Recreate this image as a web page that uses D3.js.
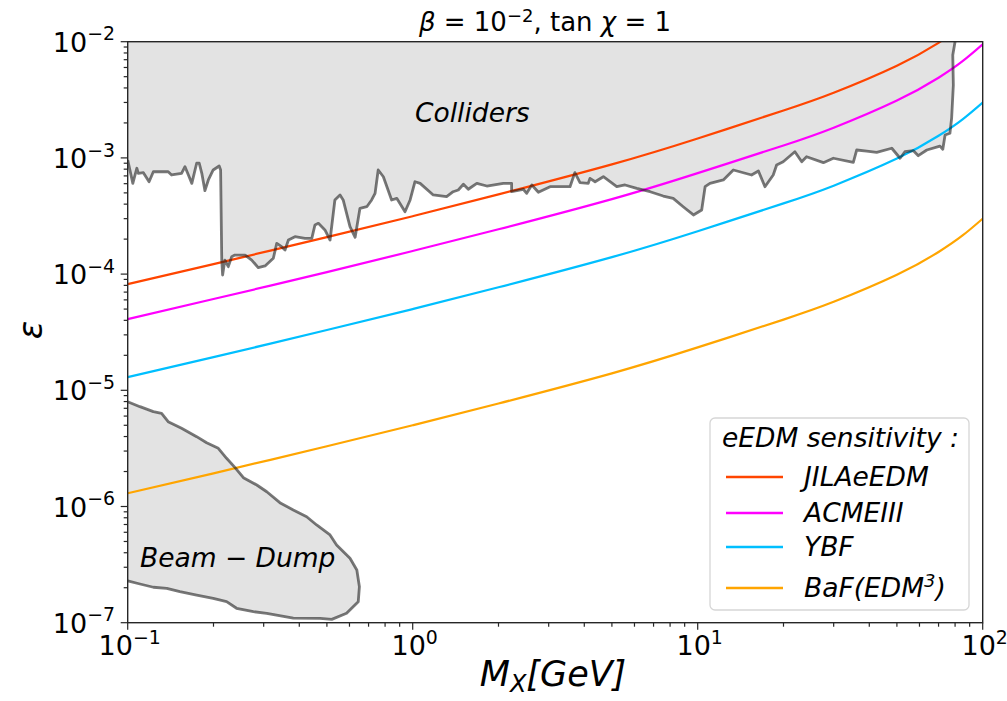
<!DOCTYPE html>
<html>
<head>
<meta charset="utf-8">
<script src="https://cdn.jsdelivr.net/npm/d3@7"></script>
<style>
body { margin:0; background:#fff; }
text { font-family: "DejaVu Sans", sans-serif; fill:#000; }
</style>
</head>
<body>
<svg id="chart" width="1007" height="701"></svg>
<script>
var massGrid = [0.1, 0.2, 0.5, 1, 2, 5, 10, 20, 30, 50, 70, 85, 100];
var jilaEps = [8.2e-5, 1.22e-4, 2.08e-4, 3.15e-4, 4.85e-4, 8.8e-4, 1.47e-3, 2.56e-3, 3.64e-3, 6.22e-3, 9.78e-3, 1.36e-2, 1.89e-2];
var acmeEps = [4.1e-5, 6.1e-5, 1.04e-4, 1.58e-4, 2.43e-4, 4.42e-4, 7.4e-4, 1.28e-3, 1.82e-3, 3.12e-3, 4.9e-3, 6.8e-3, 9.5e-3];
var ybfEps = [1.3e-5, 1.93e-5, 3.3e-5, 5.0e-5, 7.7e-5, 1.4e-4, 2.34e-4, 4.06e-4, 5.77e-4, 9.86e-4, 1.55e-3, 2.15e-3, 3.0e-3];
var bafEps = [1.3e-6, 1.93e-6, 3.3e-6, 5.0e-6, 7.7e-6, 1.4e-5, 2.34e-5, 4.06e-5, 5.77e-5, 9.86e-5, 1.55e-4, 2.15e-4, 3.0e-4];

var seriesNames = ["JILAeEDM", "ACMEIII", "YBF", "BaF"];
var seriesColors = ["#ff4500", "#ff00ff", "#00bfff", "#ffa500"];

// collider bound, log10(M/GeV) and log10(eps)
var colliderLogM = [-1.000,-0.982,-0.968,-0.963,-0.945,-0.925,-0.910,-0.858,-0.846,-0.811,-0.799,-0.787,-0.775,-0.758,-0.749,-0.740,-0.729,-0.717,-0.700,-0.679,-0.674,-0.670,-0.667,-0.659,-0.647,-0.635,-0.624,-0.588,-0.565,-0.542,-0.518,-0.489,-0.477,-0.460,-0.448,-0.436,-0.413,-0.378,-0.354,-0.343,-0.331,-0.308,-0.290,-0.273,-0.255,-0.244,-0.220,-0.202,-0.185,-0.161,-0.144,-0.132,-0.121,-0.103,-0.074,-0.056,-0.027,-0.009,0.008,0.026,0.072,0.119,0.142,0.160,0.178,0.195,0.225,0.260,0.318,0.347,0.347,0.388,0.400,0.418,0.441,0.482,0.552,0.569,0.587,0.616,0.622,0.640,0.669,0.716,0.745,0.786,0.833,0.879,0.914,0.949,0.985,1.014,1.026,1.043,1.090,1.125,1.189,1.213,1.236,1.265,1.277,1.300,1.341,1.365,1.382,1.441,1.476,1.546,1.558,1.593,1.628,1.681,1.710,1.727,1.757,1.774,1.804,1.850,1.860,1.868,1.885,1.891,1.897,1.895,1.903];
var colliderLogEps = [-3.018,-3.219,-3.089,-3.133,-3.127,-3.205,-3.119,-3.119,-3.147,-3.133,-3.076,-3.147,-3.219,-3.046,-3.046,-3.133,-3.282,-3.190,-3.104,-3.070,-3.104,-3.879,-4.008,-3.879,-3.936,-3.850,-3.836,-3.836,-3.879,-3.945,-3.930,-3.864,-3.735,-3.764,-3.793,-3.707,-3.678,-3.692,-3.692,-3.577,-3.563,-3.620,-3.707,-3.362,-3.319,-3.362,-3.592,-3.683,-3.434,-3.420,-3.362,-3.305,-3.104,-3.162,-3.362,-3.348,-3.463,-3.362,-3.205,-3.219,-3.319,-3.334,-3.291,-3.276,-3.227,-3.270,-3.219,-3.242,-3.219,-3.219,-3.291,-3.270,-3.305,-3.233,-3.296,-3.248,-3.248,-3.127,-3.213,-3.219,-3.176,-3.205,-3.162,-3.248,-3.233,-3.262,-3.291,-3.328,-3.348,-3.420,-3.491,-3.448,-3.248,-3.219,-3.190,-3.104,-3.147,-3.113,-3.248,-3.147,-3.061,-3.033,-2.947,-3.033,-2.990,-3.041,-3.003,-3.038,-2.932,-2.941,-2.952,-2.917,-3.003,-2.947,-2.938,-2.981,-2.932,-2.898,-2.926,-2.803,-2.788,-2.659,-2.373,-2.114,-2.000];

// beam dump region, same units
var beamLogM = [-1.000,-0.957,-0.910,-0.881,-0.858,-0.811,-0.758,-0.723,-0.682,-0.653,-0.624,-0.594,-0.547,-0.512,-0.466,-0.419,-0.372,-0.337,-0.290,-0.267,-0.220,-0.196,-0.187,-0.191,-0.232,-0.284,-0.325,-0.419,-0.512,-0.559,-0.618,-0.653,-0.700,-0.758,-0.817,-0.863,-0.910,-0.957,-1.000];
var beamLogEps = [-5.098,-5.141,-5.184,-5.198,-5.270,-5.327,-5.399,-5.451,-5.499,-5.585,-5.663,-5.752,-5.815,-5.873,-5.967,-6.030,-6.088,-6.159,-6.245,-6.331,-6.446,-6.547,-6.690,-6.819,-6.919,-6.971,-6.962,-6.960,-6.919,-6.905,-6.876,-6.819,-6.790,-6.762,-6.733,-6.704,-6.695,-6.667,-6.641];

var xTicks = [0.1, 1, 10, 100];
var xTickExp = ["\u22121", "0", "1", "2"];
var yTicks = [1e-7, 1e-6, 1e-5, 1e-4, 1e-3, 1e-2];
var yTickExp = ["\u22127", "\u22126", "\u22125", "\u22124", "\u22123", "\u22122"];

// plot box in px (note: "top" is taken by window.top)
var pLeft = 127.7, pRight = 982.7, pTop = 41.7, pBottom = 622.7;
var svg = d3.select("#chart");

var x = d3.scaleLog().domain([0.1, 100]).range([pLeft, pRight]);
var y = d3.scaleLog().domain([1e-7, 1e-2]).range([pBottom, pTop]);

svg.append("defs").append("clipPath").attr("id", "plotclip")
  .append("rect").attr("x", pLeft).attr("y", pTop)
  .attr("width", pRight - pLeft).attr("height", pBottom - pTop);

var plot = svg.append("g").attr("clip-path", "url(#plotclip)");

function pts(lm, le) {
  return lm.map(function(m, i) { return [Math.pow(10, m), Math.pow(10, le[i])]; });
}
var line = d3.line().x(function(d) { return x(d[0]); }).y(function(d) { return y(d[1]); });

var collider = pts(colliderLogM, colliderLogEps);
var beam = pts(beamLogM, beamLogEps);

// shaded regions
plot.append("path")
  .attr("d", line(collider.concat([[0.1, 1e-2]])) + "Z")
  .attr("fill", "#e3e3e3");
plot.append("path")
  .attr("d", line(beam) + "Z")
  .attr("fill", "#e3e3e3");

// sensitivity curves
var allEps = [jilaEps, acmeEps, ybfEps, bafEps];
var curve = d3.line().curve(d3.curveNatural)
  .x(function(d) { return x(d[0]); }).y(function(d) { return y(d[1]); });
allEps.forEach(function(vals, k) {
  plot.append("path")
    .attr("d", curve(massGrid.map(function(m, i) { return [m, vals[i]]; })))
    .attr("fill", "none")
    .attr("stroke", seriesColors[k])
    .attr("stroke-width", 2.2);
});

// region outlines
[collider, beam].forEach(function(p) {
  plot.append("path")
    .attr("d", line(p))
    .attr("fill", "none")
    .attr("stroke", "#1e1e1e")
    .attr("stroke-opacity", 0.6)
    .attr("stroke-width", 2.8)
    .attr("stroke-linejoin", "round");
});

// region labels
svg.append("text").attr("x", 415).attr("y", 122)
  .style("font-size", "26.5px").style("font-style", "italic").text("Colliders");
svg.append("text").attr("x", 140).attr("y", 567)
  .style("font-size", "26.5px").style("font-style", "italic").text("Beam \u2212 Dump");

// axes frame
svg.append("rect").attr("x", pLeft).attr("y", pTop)
  .attr("width", pRight - pLeft).attr("height", pBottom - pTop)
  .attr("fill", "none").attr("stroke", "#262626").attr("stroke-width", 1.4);

// ticks
var ax = svg.append("g").attr("stroke", "#262626").attr("stroke-width", 1.2);
for (var d = -1; d < 2; d++) {
  for (var j = 1; j < 10; j++) {
    var v = j * Math.pow(10, d);
    var len = j === 1 ? 7 : 4;
    ax.append("line").attr("x1", x(v)).attr("x2", x(v)).attr("y1", pBottom).attr("y2", pBottom + len);
  }
}
ax.append("line").attr("x1", x(100)).attr("x2", x(100)).attr("y1", pBottom).attr("y2", pBottom + 7);
for (var d = -7; d < -2; d++) {
  for (var j = 1; j < 10; j++) {
    var v = j * Math.pow(10, d);
    var len = j === 1 ? 7 : 4;
    ax.append("line").attr("y1", y(v)).attr("y2", y(v)).attr("x1", pLeft).attr("x2", pLeft - len);
  }
}
ax.append("line").attr("y1", y(1e-2)).attr("y2", y(1e-2)).attr("x1", pLeft).attr("x2", pLeft - 7);

function powLabel(g, px, py, anchor, exp, size) {
  var t = g.append("text").attr("x", px).attr("y", py)
    .attr("text-anchor", anchor).style("font-size", size + "px");
  t.append("tspan").text("10");
  t.append("tspan").attr("dy", -size * 0.42).style("font-size", (size * 0.7) + "px").text(exp);
  return t;
}

xTicks.forEach(function(v, i) {
  powLabel(svg, x(v) + 2, 655, "middle", xTickExp[i], 27);
});
yTicks.forEach(function(v, i) {
  powLabel(svg, 115, y(v) + 10, "end", yTickExp[i], 27);
});

// title
var title = svg.append("text").attr("x", 545).attr("y", 31)
  .attr("text-anchor", "middle").style("font-size", "26px");
title.append("tspan").style("font-style", "italic").text("\u03b2");
title.append("tspan").text(" = 10");
title.append("tspan").attr("dy", -9).style("font-size", "18px").text("\u22122");
title.append("tspan").attr("dy", 9).text(", tan ");
title.append("tspan").style("font-style", "italic").text("\u03c7");
title.append("tspan").text(" = 1");

// axis labels
var xl = svg.append("text").attr("x", 553).attr("y", 686)
  .attr("text-anchor", "middle").style("font-size", "35px").style("font-style", "italic");
xl.append("tspan").text("M");
xl.append("tspan").attr("dy", 6).style("font-size", "24px").text("X");
xl.append("tspan").attr("dy", -6).text("[GeV]");

svg.append("text").attr("transform", "translate(42,330) rotate(-90)")
  .attr("text-anchor", "middle").style("font-size", "34px").style("font-style", "italic")
  .text("\u03b5");

// legend
var lg = svg.append("g");
lg.append("rect").attr("x", 710).attr("y", 418).attr("width", 259).attr("height", 192)
  .attr("rx", 5).attr("fill", "#fff").attr("fill-opacity", 0.8)
  .attr("stroke", "#d6d6d6").attr("stroke-width", 1.3);
lg.append("text").attr("x", 722).attr("y", 447)
  .style("font-size", "26.5px").style("font-style", "italic").text("eEDM sensitivity :");
var legendY = [477, 513, 547, 588];
seriesNames.forEach(function(n, k) {
  lg.append("line").attr("x1", 726).attr("x2", 783)
    .attr("y1", legendY[k]).attr("y2", legendY[k])
    .attr("stroke", seriesColors[k]).attr("stroke-width", 2.6);
  var t = lg.append("text").attr("x", 804).attr("y", legendY[k] + 9)
    .style("font-size", "26.5px").style("font-style", "italic");
  if (n === "BaF") {
    t.append("tspan").text("BaF(EDM");
    t.append("tspan").attr("dy", -10).style("font-size", "18px").text("3");
    t.append("tspan").attr("dy", 10).text(")");
  } else {
    t.text(n);
  }
});
</script>
</body>
</html>
